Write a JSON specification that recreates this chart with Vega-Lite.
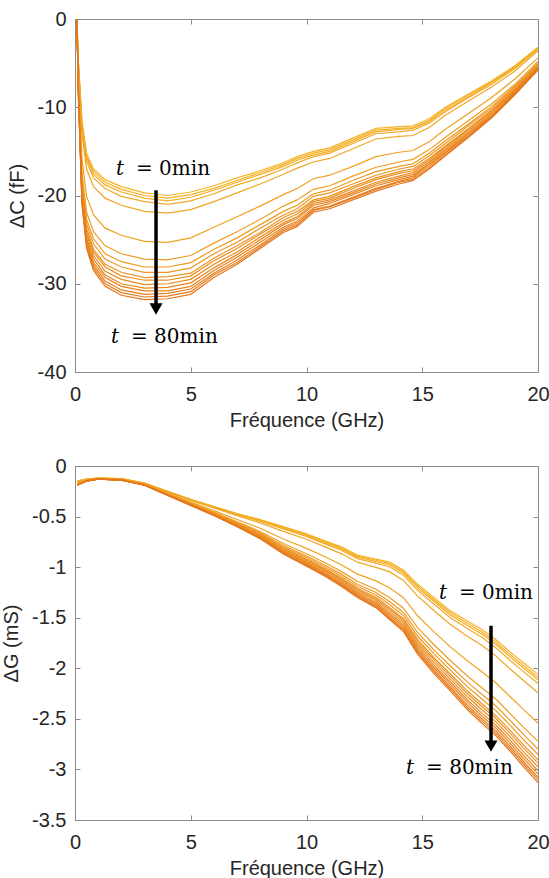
{
"$schema":"https://vega.github.io/schema/vega-lite/v6.json",
"background":"white",
"padding":{"left":1,"top":8,"right":0,"bottom":0},
"spacing":24,
"config":{
 "view":{"stroke":"#8c8c8c","strokeWidth":1},
 "axis":{"labelFont":"Liberation Sans","titleFont":"Liberation Sans","labelFontSize":20,"titleFontSize":20,"titleFontWeight":"normal","labelColor":"#262626","titleColor":"#262626","grid":false,"domainColor":"#8c8c8c","tickColor":"#8c8c8c","tickSize":-5,"labelFlush":false,"labelOverlap":false},
 "axisX":{"labelPadding":17,"titlePadding":6},
 "axisY":{"labelPadding":14,"titlePadding":10}
},
"datasets":{
"dc":[
{"t":0,"f":0.08,"v":0},{"t":0,"f":0.15,"v":-5.0},{"t":0,"f":0.3,"v":-11.5},{"t":0,"f":0.5,"v":-15.2},{"t":0,"f":0.8,"v":-17.0},{"t":0,"f":1.3,"v":-18.2},{"t":0,"f":2,"v":-19.0},{"t":0,"f":3,"v":-19.7},{"t":0,"f":4,"v":-20.0},{"t":0,"f":5,"v":-19.6},{"t":0,"f":6,"v":-18.9},{"t":0,"f":7,"v":-18.0},{"t":0,"f":8,"v":-17.2},{"t":0,"f":9,"v":-16.3},{"t":0,"f":9.6,"v":-15.6},{"t":0,"f":10.3,"v":-15.0},{"t":0,"f":11,"v":-14.6},{"t":0,"f":12,"v":-13.5},{"t":0,"f":13,"v":-12.4},{"t":0,"f":14,"v":-12.2},{"t":0,"f":14.6,"v":-12.1},{"t":0,"f":15.3,"v":-11.3},{"t":0,"f":16,"v":-10.0},{"t":0,"f":17,"v":-8.5},{"t":0,"f":18,"v":-7.0},{"t":0,"f":19,"v":-5.3},{"t":0,"f":20,"v":-3.2},
{"t":5,"f":0.08,"v":0},{"t":5,"f":0.15,"v":-5.1},{"t":5,"f":0.3,"v":-11.8},{"t":5,"f":0.5,"v":-15.5},{"t":5,"f":0.8,"v":-17.3},{"t":5,"f":1.3,"v":-18.5},{"t":5,"f":2,"v":-19.3},{"t":5,"f":3,"v":-20.0},{"t":5,"f":4,"v":-20.3},{"t":5,"f":5,"v":-19.9},{"t":5,"f":6,"v":-19.2},{"t":5,"f":7,"v":-18.3},{"t":5,"f":8,"v":-17.4},{"t":5,"f":9,"v":-16.5},{"t":5,"f":9.6,"v":-15.8},{"t":5,"f":10.3,"v":-15.2},{"t":5,"f":11,"v":-14.8},{"t":5,"f":12,"v":-13.7},{"t":5,"f":13,"v":-12.6},{"t":5,"f":14,"v":-12.4},{"t":5,"f":14.6,"v":-12.3},{"t":5,"f":15.3,"v":-11.5},{"t":5,"f":16,"v":-10.1},{"t":5,"f":17,"v":-8.6},{"t":5,"f":18,"v":-7.1},{"t":5,"f":19,"v":-5.4},{"t":5,"f":20,"v":-3.3},
{"t":10,"f":0.08,"v":0},{"t":10,"f":0.15,"v":-5.2},{"t":10,"f":0.3,"v":-12.0},{"t":10,"f":0.5,"v":-15.7},{"t":10,"f":0.8,"v":-17.6},{"t":10,"f":1.3,"v":-18.8},{"t":10,"f":2,"v":-19.6},{"t":10,"f":3,"v":-20.3},{"t":10,"f":4,"v":-20.6},{"t":10,"f":5,"v":-20.2},{"t":10,"f":6,"v":-19.4},{"t":10,"f":7,"v":-18.5},{"t":10,"f":8,"v":-17.6},{"t":10,"f":9,"v":-16.7},{"t":10,"f":9.6,"v":-16.0},{"t":10,"f":10.3,"v":-15.4},{"t":10,"f":11,"v":-15.0},{"t":10,"f":12,"v":-13.9},{"t":10,"f":13,"v":-12.8},{"t":10,"f":14,"v":-12.5},{"t":10,"f":14.6,"v":-12.4},{"t":10,"f":15.3,"v":-11.6},{"t":10,"f":16,"v":-10.3},{"t":10,"f":17,"v":-8.8},{"t":10,"f":18,"v":-7.2},{"t":10,"f":19,"v":-5.5},{"t":10,"f":20,"v":-3.3},
{"t":15,"f":0.08,"v":0},{"t":15,"f":0.15,"v":-5.3},{"t":15,"f":0.3,"v":-12.3},{"t":15,"f":0.5,"v":-16.1},{"t":15,"f":0.8,"v":-18.0},{"t":15,"f":1.3,"v":-19.2},{"t":15,"f":2,"v":-20.1},{"t":15,"f":3,"v":-20.7},{"t":15,"f":4,"v":-21.0},{"t":15,"f":5,"v":-20.6},{"t":15,"f":6,"v":-19.8},{"t":15,"f":7,"v":-18.8},{"t":15,"f":8,"v":-18.0},{"t":15,"f":9,"v":-17.0},{"t":15,"f":9.6,"v":-16.3},{"t":15,"f":10.3,"v":-15.6},{"t":15,"f":11,"v":-15.2},{"t":15,"f":12,"v":-14.1},{"t":15,"f":13,"v":-13.0},{"t":15,"f":14,"v":-12.8},{"t":15,"f":14.6,"v":-12.6},{"t":15,"f":15.3,"v":-11.8},{"t":15,"f":16,"v":-10.5},{"t":15,"f":17,"v":-8.9},{"t":15,"f":18,"v":-7.4},{"t":15,"f":19,"v":-5.6},{"t":15,"f":20,"v":-3.4},
{"t":20,"f":0.08,"v":0},{"t":20,"f":0.15,"v":-5.7},{"t":20,"f":0.3,"v":-13.1},{"t":20,"f":0.5,"v":-17.0},{"t":20,"f":0.8,"v":-19.0},{"t":20,"f":1.3,"v":-20.3},{"t":20,"f":2,"v":-21.1},{"t":20,"f":3,"v":-21.8},{"t":20,"f":4,"v":-22.0},{"t":20,"f":5,"v":-21.6},{"t":20,"f":6,"v":-20.7},{"t":20,"f":7,"v":-19.7},{"t":20,"f":8,"v":-18.7},{"t":20,"f":9,"v":-17.6},{"t":20,"f":9.6,"v":-16.9},{"t":20,"f":10.3,"v":-16.2},{"t":20,"f":11,"v":-15.8},{"t":20,"f":12,"v":-14.7},{"t":20,"f":13,"v":-13.6},{"t":20,"f":14,"v":-13.3},{"t":20,"f":14.6,"v":-13.2},{"t":20,"f":15.3,"v":-12.3},{"t":20,"f":16,"v":-10.9},{"t":20,"f":17,"v":-9.3},{"t":20,"f":18,"v":-7.7},{"t":20,"f":19,"v":-5.9},{"t":20,"f":20,"v":-3.6},
{"t":25,"f":0.08,"v":0},{"t":25,"f":0.15,"v":-6.8},{"t":25,"f":0.3,"v":-15.8},{"t":25,"f":0.5,"v":-20.1},{"t":25,"f":0.8,"v":-22.2},{"t":25,"f":1.3,"v":-23.7},{"t":25,"f":2,"v":-24.5},{"t":25,"f":3,"v":-25.2},{"t":25,"f":4,"v":-25.3},{"t":25,"f":5,"v":-24.8},{"t":25,"f":6,"v":-23.6},{"t":25,"f":7,"v":-22.4},{"t":25,"f":8,"v":-21.2},{"t":25,"f":9,"v":-19.9},{"t":25,"f":9.6,"v":-19.2},{"t":25,"f":10.3,"v":-18.1},{"t":25,"f":11,"v":-17.7},{"t":25,"f":12,"v":-16.7},{"t":25,"f":13,"v":-15.6},{"t":25,"f":14,"v":-15.1},{"t":25,"f":14.6,"v":-14.9},{"t":25,"f":15.3,"v":-13.9},{"t":25,"f":16,"v":-12.5},{"t":25,"f":17,"v":-10.7},{"t":25,"f":18,"v":-8.9},{"t":25,"f":19,"v":-6.8},{"t":25,"f":20,"v":-4.4},
{"t":30,"f":0.08,"v":0},{"t":30,"f":0.15,"v":-7.5},{"t":30,"f":0.3,"v":-17.4},{"t":30,"f":0.5,"v":-21.9},{"t":30,"f":0.8,"v":-24.1},{"t":30,"f":1.3,"v":-25.7},{"t":30,"f":2,"v":-26.6},{"t":30,"f":3,"v":-27.2},{"t":30,"f":4,"v":-27.3},{"t":30,"f":5,"v":-26.8},{"t":30,"f":6,"v":-25.4},{"t":30,"f":7,"v":-24.1},{"t":30,"f":8,"v":-22.7},{"t":30,"f":9,"v":-21.2},{"t":30,"f":9.6,"v":-20.5},{"t":30,"f":10.3,"v":-19.3},{"t":30,"f":11,"v":-18.9},{"t":30,"f":12,"v":-17.8},{"t":30,"f":13,"v":-16.8},{"t":30,"f":14,"v":-16.2},{"t":30,"f":14.6,"v":-15.9},{"t":30,"f":15.3,"v":-14.8},{"t":30,"f":16,"v":-13.4},{"t":30,"f":17,"v":-11.5},{"t":30,"f":18,"v":-9.6},{"t":30,"f":19,"v":-7.4},{"t":30,"f":20,"v":-4.8},
{"t":35,"f":0.08,"v":0},{"t":35,"f":0.15,"v":-7.8},{"t":35,"f":0.3,"v":-18.1},{"t":35,"f":0.5,"v":-22.7},{"t":35,"f":0.8,"v":-24.9},{"t":35,"f":1.3,"v":-26.6},{"t":35,"f":2,"v":-27.5},{"t":35,"f":3,"v":-28.1},{"t":35,"f":4,"v":-28.1},{"t":35,"f":5,"v":-27.6},{"t":35,"f":6,"v":-26.1},{"t":35,"f":7,"v":-24.8},{"t":35,"f":8,"v":-23.3},{"t":35,"f":9,"v":-21.8},{"t":35,"f":9.6,"v":-21.1},{"t":35,"f":10.3,"v":-19.8},{"t":35,"f":11,"v":-19.4},{"t":35,"f":12,"v":-18.3},{"t":35,"f":13,"v":-17.3},{"t":35,"f":14,"v":-16.7},{"t":35,"f":14.6,"v":-16.4},{"t":35,"f":15.3,"v":-15.2},{"t":35,"f":16,"v":-13.8},{"t":35,"f":17,"v":-11.9},{"t":35,"f":18,"v":-9.9},{"t":35,"f":19,"v":-7.6},{"t":35,"f":20,"v":-5.0},
{"t":40,"f":0.08,"v":0},{"t":40,"f":0.15,"v":-8.0},{"t":40,"f":0.3,"v":-18.5},{"t":40,"f":0.5,"v":-23.2},{"t":40,"f":0.8,"v":-25.5},{"t":40,"f":1.3,"v":-27.2},{"t":40,"f":2,"v":-28.1},{"t":40,"f":3,"v":-28.7},{"t":40,"f":4,"v":-28.7},{"t":40,"f":5,"v":-28.2},{"t":40,"f":6,"v":-26.6},{"t":40,"f":7,"v":-25.3},{"t":40,"f":8,"v":-23.7},{"t":40,"f":9,"v":-22.2},{"t":40,"f":9.6,"v":-21.5},{"t":40,"f":10.3,"v":-20.1},{"t":40,"f":11,"v":-19.7},{"t":40,"f":12,"v":-18.7},{"t":40,"f":13,"v":-17.7},{"t":40,"f":14,"v":-17.0},{"t":40,"f":14.6,"v":-16.7},{"t":40,"f":15.3,"v":-15.5},{"t":40,"f":16,"v":-14.1},{"t":40,"f":17,"v":-12.1},{"t":40,"f":18,"v":-10.1},{"t":40,"f":19,"v":-7.7},{"t":40,"f":20,"v":-5.1},
{"t":45,"f":0.08,"v":0},{"t":45,"f":0.15,"v":-8.2},{"t":45,"f":0.3,"v":-19.0},{"t":45,"f":0.5,"v":-23.7},{"t":45,"f":0.8,"v":-26.1},{"t":45,"f":1.3,"v":-27.8},{"t":45,"f":2,"v":-28.7},{"t":45,"f":3,"v":-29.3},{"t":45,"f":4,"v":-29.2},{"t":45,"f":5,"v":-28.8},{"t":45,"f":6,"v":-27.1},{"t":45,"f":7,"v":-25.7},{"t":45,"f":8,"v":-24.2},{"t":45,"f":9,"v":-22.5},{"t":45,"f":9.6,"v":-21.8},{"t":45,"f":10.3,"v":-20.5},{"t":45,"f":11,"v":-20.1},{"t":45,"f":12,"v":-19.0},{"t":45,"f":13,"v":-18.0},{"t":45,"f":14,"v":-17.3},{"t":45,"f":14.6,"v":-17.0},{"t":45,"f":15.3,"v":-15.8},{"t":45,"f":16,"v":-14.4},{"t":45,"f":17,"v":-12.4},{"t":45,"f":18,"v":-10.3},{"t":45,"f":19,"v":-7.9},{"t":45,"f":20,"v":-5.3},
{"t":50,"f":0.08,"v":0},{"t":50,"f":0.15,"v":-8.3},{"t":50,"f":0.3,"v":-19.3},{"t":50,"f":0.5,"v":-24.1},{"t":50,"f":0.8,"v":-26.4},{"t":50,"f":1.3,"v":-28.1},{"t":50,"f":2,"v":-29.1},{"t":50,"f":3,"v":-29.6},{"t":50,"f":4,"v":-29.6},{"t":50,"f":5,"v":-29.1},{"t":50,"f":6,"v":-27.4},{"t":50,"f":7,"v":-26.0},{"t":50,"f":8,"v":-24.4},{"t":50,"f":9,"v":-22.8},{"t":50,"f":9.6,"v":-22.1},{"t":50,"f":10.3,"v":-20.7},{"t":50,"f":11,"v":-20.3},{"t":50,"f":12,"v":-19.2},{"t":50,"f":13,"v":-18.2},{"t":50,"f":14,"v":-17.5},{"t":50,"f":14.6,"v":-17.2},{"t":50,"f":15.3,"v":-16.0},{"t":50,"f":16,"v":-14.5},{"t":50,"f":17,"v":-12.5},{"t":50,"f":18,"v":-10.4},{"t":50,"f":19,"v":-8.0},{"t":50,"f":20,"v":-5.3},
{"t":55,"f":0.08,"v":0},{"t":55,"f":0.15,"v":-8.4},{"t":55,"f":0.3,"v":-19.6},{"t":55,"f":0.5,"v":-24.4},{"t":55,"f":0.8,"v":-26.8},{"t":55,"f":1.3,"v":-28.6},{"t":55,"f":2,"v":-29.5},{"t":55,"f":3,"v":-30.1},{"t":55,"f":4,"v":-30.0},{"t":55,"f":5,"v":-29.5},{"t":55,"f":6,"v":-27.8},{"t":55,"f":7,"v":-26.4},{"t":55,"f":8,"v":-24.7},{"t":55,"f":9,"v":-23.1},{"t":55,"f":9.6,"v":-22.4},{"t":55,"f":10.3,"v":-20.9},{"t":55,"f":11,"v":-20.5},{"t":55,"f":12,"v":-19.5},{"t":55,"f":13,"v":-18.5},{"t":55,"f":14,"v":-17.8},{"t":55,"f":14.6,"v":-17.4},{"t":55,"f":15.3,"v":-16.2},{"t":55,"f":16,"v":-14.7},{"t":55,"f":17,"v":-12.7},{"t":55,"f":18,"v":-10.6},{"t":55,"f":19,"v":-8.1},{"t":55,"f":20,"v":-5.4},
{"t":60,"f":0.08,"v":0},{"t":60,"f":0.15,"v":-8.6},{"t":60,"f":0.3,"v":-20.0},{"t":60,"f":0.5,"v":-24.8},{"t":60,"f":0.8,"v":-27.2},{"t":60,"f":1.3,"v":-29.0},{"t":60,"f":2,"v":-30.0},{"t":60,"f":3,"v":-30.5},{"t":60,"f":4,"v":-30.4},{"t":60,"f":5,"v":-29.9},{"t":60,"f":6,"v":-28.2},{"t":60,"f":7,"v":-26.7},{"t":60,"f":8,"v":-25.0},{"t":60,"f":9,"v":-23.3},{"t":60,"f":9.6,"v":-22.6},{"t":60,"f":10.3,"v":-21.1},{"t":60,"f":11,"v":-20.7},{"t":60,"f":12,"v":-19.7},{"t":60,"f":13,"v":-18.7},{"t":60,"f":14,"v":-18.0},{"t":60,"f":14.6,"v":-17.6},{"t":60,"f":15.3,"v":-16.4},{"t":60,"f":16,"v":-14.9},{"t":60,"f":17,"v":-12.9},{"t":60,"f":18,"v":-10.7},{"t":60,"f":19,"v":-8.2},{"t":60,"f":20,"v":-5.5},
{"t":65,"f":0.08,"v":0},{"t":65,"f":0.15,"v":-8.7},{"t":65,"f":0.3,"v":-20.2},{"t":65,"f":0.5,"v":-25.1},{"t":65,"f":0.8,"v":-27.6},{"t":65,"f":1.3,"v":-29.3},{"t":65,"f":2,"v":-30.3},{"t":65,"f":3,"v":-30.8},{"t":65,"f":4,"v":-30.8},{"t":65,"f":5,"v":-30.3},{"t":65,"f":6,"v":-28.5},{"t":65,"f":7,"v":-27.0},{"t":65,"f":8,"v":-25.3},{"t":65,"f":9,"v":-23.6},{"t":65,"f":9.6,"v":-22.9},{"t":65,"f":10.3,"v":-21.4},{"t":65,"f":11,"v":-20.9},{"t":65,"f":12,"v":-19.9},{"t":65,"f":13,"v":-18.9},{"t":65,"f":14,"v":-18.2},{"t":65,"f":14.6,"v":-17.8},{"t":65,"f":15.3,"v":-16.5},{"t":65,"f":16,"v":-15.1},{"t":65,"f":17,"v":-13.0},{"t":65,"f":18,"v":-10.9},{"t":65,"f":19,"v":-8.3},{"t":65,"f":20,"v":-5.6},
{"t":70,"f":0.08,"v":0},{"t":70,"f":0.15,"v":-8.8},{"t":70,"f":0.3,"v":-20.5},{"t":70,"f":0.5,"v":-25.5},{"t":70,"f":0.8,"v":-27.9},{"t":70,"f":1.3,"v":-29.7},{"t":70,"f":2,"v":-30.7},{"t":70,"f":3,"v":-31.2},{"t":70,"f":4,"v":-31.1},{"t":70,"f":5,"v":-30.6},{"t":70,"f":6,"v":-28.8},{"t":70,"f":7,"v":-27.3},{"t":70,"f":8,"v":-25.6},{"t":70,"f":9,"v":-23.8},{"t":70,"f":9.6,"v":-23.1},{"t":70,"f":10.3,"v":-21.6},{"t":70,"f":11,"v":-21.2},{"t":70,"f":12,"v":-20.2},{"t":70,"f":13,"v":-19.2},{"t":70,"f":14,"v":-18.4},{"t":70,"f":14.6,"v":-18.0},{"t":70,"f":15.3,"v":-16.7},{"t":70,"f":16,"v":-15.2},{"t":70,"f":17,"v":-13.2},{"t":70,"f":18,"v":-11.0},{"t":70,"f":19,"v":-8.4},{"t":70,"f":20,"v":-5.7},
{"t":75,"f":0.08,"v":0},{"t":75,"f":0.15,"v":-8.9},{"t":75,"f":0.3,"v":-20.8},{"t":75,"f":0.5,"v":-25.7},{"t":75,"f":0.8,"v":-28.2},{"t":75,"f":1.3,"v":-30.0},{"t":75,"f":2,"v":-31.0},{"t":75,"f":3,"v":-31.5},{"t":75,"f":4,"v":-31.4},{"t":75,"f":5,"v":-30.9},{"t":75,"f":6,"v":-29.0},{"t":75,"f":7,"v":-27.6},{"t":75,"f":8,"v":-25.8},{"t":75,"f":9,"v":-24.0},{"t":75,"f":9.6,"v":-23.3},{"t":75,"f":10.3,"v":-21.7},{"t":75,"f":11,"v":-21.3},{"t":75,"f":12,"v":-20.3},{"t":75,"f":13,"v":-19.3},{"t":75,"f":14,"v":-18.5},{"t":75,"f":14.6,"v":-18.2},{"t":75,"f":15.3,"v":-16.9},{"t":75,"f":16,"v":-15.4},{"t":75,"f":17,"v":-13.3},{"t":75,"f":18,"v":-11.1},{"t":75,"f":19,"v":-8.5},{"t":75,"f":20,"v":-5.7},
{"t":80,"f":0.08,"v":0},{"t":80,"f":0.15,"v":-9.0},{"t":80,"f":0.3,"v":-21.0},{"t":80,"f":0.5,"v":-26.0},{"t":80,"f":0.8,"v":-28.5},{"t":80,"f":1.3,"v":-30.3},{"t":80,"f":2,"v":-31.3},{"t":80,"f":3,"v":-31.8},{"t":80,"f":4,"v":-31.7},{"t":80,"f":5,"v":-31.2},{"t":80,"f":6,"v":-29.3},{"t":80,"f":7,"v":-27.8},{"t":80,"f":8,"v":-26.0},{"t":80,"f":9,"v":-24.2},{"t":80,"f":9.6,"v":-23.5},{"t":80,"f":10.3,"v":-21.9},{"t":80,"f":11,"v":-21.5},{"t":80,"f":12,"v":-20.5},{"t":80,"f":13,"v":-19.5},{"t":80,"f":14,"v":-18.7},{"t":80,"f":14.6,"v":-18.3},{"t":80,"f":15.3,"v":-17.0},{"t":80,"f":16,"v":-15.5},{"t":80,"f":17,"v":-13.4},{"t":80,"f":18,"v":-11.2},{"t":80,"f":19,"v":-8.6},{"t":80,"f":20,"v":-5.8}
],
"dg":[
{"t":0,"f":0.1,"v":-0.15},{"t":5,"f":0.1,"v":-0.15},{"t":10,"f":0.1,"v":-0.15},{"t":15,"f":0.1,"v":-0.153},{"t":20,"f":0.1,"v":-0.157},{"t":25,"f":0.1,"v":-0.168},{"t":30,"f":0.1,"v":-0.175},{"t":35,"f":0.1,"v":-0.178},{"t":40,"f":0.1,"v":-0.18},{"t":45,"f":0.1,"v":-0.182},{"t":50,"f":0.1,"v":-0.183},{"t":55,"f":0.1,"v":-0.184},{"t":60,"f":0.1,"v":-0.186},{"t":65,"f":0.1,"v":-0.187},{"t":70,"f":0.1,"v":-0.188},{"t":75,"f":0.1,"v":-0.189},{"t":80,"f":0.1,"v":-0.19},
{"t":0,"f":0.5,"v":-0.13},{"t":5,"f":0.5,"v":-0.13},{"t":10,"f":0.5,"v":-0.131},{"t":15,"f":0.5,"v":-0.132},{"t":20,"f":0.5,"v":-0.133},{"t":25,"f":0.5,"v":-0.139},{"t":30,"f":0.5,"v":-0.142},{"t":35,"f":0.5,"v":-0.144},{"t":40,"f":0.5,"v":-0.145},{"t":45,"f":0.5,"v":-0.146},{"t":50,"f":0.5,"v":-0.146},{"t":55,"f":0.5,"v":-0.147},{"t":60,"f":0.5,"v":-0.148},{"t":65,"f":0.5,"v":-0.148},{"t":70,"f":0.5,"v":-0.149},{"t":75,"f":0.5,"v":-0.15},{"t":80,"f":0.5,"v":-0.15},
{"t":0,"f":1,"v":-0.12},{"t":5,"f":1,"v":-0.12},{"t":10,"f":1,"v":-0.12},{"t":15,"f":1,"v":-0.121},{"t":20,"f":1,"v":-0.122},{"t":25,"f":1,"v":-0.125},{"t":30,"f":1,"v":-0.126},{"t":35,"f":1,"v":-0.127},{"t":40,"f":1,"v":-0.127},{"t":45,"f":1,"v":-0.128},{"t":50,"f":1,"v":-0.128},{"t":55,"f":1,"v":-0.129},{"t":60,"f":1,"v":-0.129},{"t":65,"f":1,"v":-0.129},{"t":70,"f":1,"v":-0.13},{"t":75,"f":1,"v":-0.13},{"t":80,"f":1,"v":-0.13},
{"t":0,"f":2,"v":-0.125},{"t":5,"f":2,"v":-0.125},{"t":10,"f":2,"v":-0.126},{"t":15,"f":2,"v":-0.126},{"t":20,"f":2,"v":-0.128},{"t":25,"f":2,"v":-0.132},{"t":30,"f":2,"v":-0.134},{"t":35,"f":2,"v":-0.135},{"t":40,"f":2,"v":-0.136},{"t":45,"f":2,"v":-0.137},{"t":50,"f":2,"v":-0.137},{"t":55,"f":2,"v":-0.138},{"t":60,"f":2,"v":-0.138},{"t":65,"f":2,"v":-0.139},{"t":70,"f":2,"v":-0.139},{"t":75,"f":2,"v":-0.14},{"t":80,"f":2,"v":-0.14},
{"t":0,"f":3,"v":-0.17},{"t":5,"f":3,"v":-0.17},{"t":10,"f":3,"v":-0.171},{"t":15,"f":3,"v":-0.172},{"t":20,"f":3,"v":-0.173},{"t":25,"f":3,"v":-0.179},{"t":30,"f":3,"v":-0.182},{"t":35,"f":3,"v":-0.184},{"t":40,"f":3,"v":-0.185},{"t":45,"f":3,"v":-0.186},{"t":50,"f":3,"v":-0.186},{"t":55,"f":3,"v":-0.187},{"t":60,"f":3,"v":-0.188},{"t":65,"f":3,"v":-0.188},{"t":70,"f":3,"v":-0.189},{"t":75,"f":3,"v":-0.19},{"t":80,"f":3,"v":-0.19},
{"t":0,"f":4,"v":-0.25},{"t":5,"f":4,"v":-0.251},{"t":10,"f":4,"v":-0.252},{"t":15,"f":4,"v":-0.253},{"t":20,"f":4,"v":-0.257},{"t":25,"f":4,"v":-0.268},{"t":30,"f":4,"v":-0.275},{"t":35,"f":4,"v":-0.278},{"t":40,"f":4,"v":-0.28},{"t":45,"f":4,"v":-0.282},{"t":50,"f":4,"v":-0.283},{"t":55,"f":4,"v":-0.284},{"t":60,"f":4,"v":-0.286},{"t":65,"f":4,"v":-0.287},{"t":70,"f":4,"v":-0.288},{"t":75,"f":4,"v":-0.289},{"t":80,"f":4,"v":-0.29},
{"t":0,"f":5,"v":-0.33},{"t":5,"f":5,"v":-0.332},{"t":10,"f":5,"v":-0.333},{"t":15,"f":5,"v":-0.335},{"t":20,"f":5,"v":-0.34},{"t":25,"f":5,"v":-0.357},{"t":30,"f":5,"v":-0.367},{"t":35,"f":5,"v":-0.371},{"t":40,"f":5,"v":-0.374},{"t":45,"f":5,"v":-0.377},{"t":50,"f":5,"v":-0.379},{"t":55,"f":5,"v":-0.381},{"t":60,"f":5,"v":-0.383},{"t":65,"f":5,"v":-0.385},{"t":70,"f":5,"v":-0.387},{"t":75,"f":5,"v":-0.389},{"t":80,"f":5,"v":-0.39},
{"t":0,"f":6,"v":-0.40},{"t":5,"f":6,"v":-0.402},{"t":10,"f":6,"v":-0.405},{"t":15,"f":6,"v":-0.408},{"t":20,"f":6,"v":-0.415},{"t":25,"f":6,"v":-0.441},{"t":30,"f":6,"v":-0.456},{"t":35,"f":6,"v":-0.462},{"t":40,"f":6,"v":-0.467},{"t":45,"f":6,"v":-0.471},{"t":50,"f":6,"v":-0.474},{"t":55,"f":6,"v":-0.477},{"t":60,"f":6,"v":-0.48},{"t":65,"f":6,"v":-0.483},{"t":70,"f":6,"v":-0.486},{"t":75,"f":6,"v":-0.488},{"t":80,"f":6,"v":-0.49},
{"t":0,"f":7,"v":-0.47},{"t":5,"f":7,"v":-0.473},{"t":10,"f":7,"v":-0.477},{"t":15,"f":7,"v":-0.481},{"t":20,"f":7,"v":-0.492},{"t":25,"f":7,"v":-0.529},{"t":30,"f":7,"v":-0.551},{"t":35,"f":7,"v":-0.56},{"t":40,"f":7,"v":-0.566},{"t":45,"f":7,"v":-0.573},{"t":50,"f":7,"v":-0.577},{"t":55,"f":7,"v":-0.581},{"t":60,"f":7,"v":-0.586},{"t":65,"f":7,"v":-0.59},{"t":70,"f":7,"v":-0.594},{"t":75,"f":7,"v":-0.597},{"t":80,"f":7,"v":-0.60},
{"t":0,"f":8,"v":-0.53},{"t":5,"f":8,"v":-0.535},{"t":10,"f":8,"v":-0.54},{"t":15,"f":8,"v":-0.546},{"t":20,"f":8,"v":-0.562},{"t":25,"f":8,"v":-0.616},{"t":30,"f":8,"v":-0.648},{"t":35,"f":8,"v":-0.661},{"t":40,"f":8,"v":-0.671},{"t":45,"f":8,"v":-0.68},{"t":50,"f":8,"v":-0.686},{"t":55,"f":8,"v":-0.692},{"t":60,"f":8,"v":-0.699},{"t":65,"f":8,"v":-0.705},{"t":70,"f":8,"v":-0.711},{"t":75,"f":8,"v":-0.715},{"t":80,"f":8,"v":-0.72},
{"t":0,"f":9,"v":-0.60},{"t":5,"f":9,"v":-0.607},{"t":10,"f":9,"v":-0.614},{"t":15,"f":9,"v":-0.623},{"t":20,"f":9,"v":-0.646},{"t":25,"f":9,"v":-0.722},{"t":30,"f":9,"v":-0.767},{"t":35,"f":9,"v":-0.786},{"t":40,"f":9,"v":-0.80},{"t":45,"f":9,"v":-0.813},{"t":50,"f":9,"v":-0.821},{"t":55,"f":9,"v":-0.831},{"t":60,"f":9,"v":-0.84},{"t":65,"f":9,"v":-0.848},{"t":70,"f":9,"v":-0.857},{"t":75,"f":9,"v":-0.863},{"t":80,"f":9,"v":-0.87},
{"t":0,"f":10,"v":-0.67},{"t":5,"f":10,"v":-0.678},{"t":10,"f":10,"v":-0.686},{"t":15,"f":10,"v":-0.697},{"t":20,"f":10,"v":-0.724},{"t":25,"f":10,"v":-0.814},{"t":30,"f":10,"v":-0.868},{"t":35,"f":10,"v":-0.891},{"t":40,"f":10,"v":-0.907},{"t":45,"f":10,"v":-0.923},{"t":50,"f":10,"v":-0.932},{"t":55,"f":10,"v":-0.944},{"t":60,"f":10,"v":-0.955},{"t":65,"f":10,"v":-0.964},{"t":70,"f":10,"v":-0.974},{"t":75,"f":10,"v":-0.982},{"t":80,"f":10,"v":-0.99},
{"t":0,"f":10.8,"v":-0.74},{"t":5,"f":10.8,"v":-0.749},{"t":10,"f":10.8,"v":-0.758},{"t":15,"f":10.8,"v":-0.77},{"t":20,"f":10.8,"v":-0.80},{"t":25,"f":10.8,"v":-0.898},{"t":30,"f":10.8,"v":-0.957},{"t":35,"f":10.8,"v":-0.982},{"t":40,"f":10.8,"v":-0.999},{"t":45,"f":10.8,"v":-1.017},{"t":50,"f":10.8,"v":-1.027},{"t":55,"f":10.8,"v":-1.039},{"t":60,"f":10.8,"v":-1.052},{"t":65,"f":10.8,"v":-1.062},{"t":70,"f":10.8,"v":-1.073},{"t":75,"f":10.8,"v":-1.081},{"t":80,"f":10.8,"v":-1.09},
{"t":0,"f":11.5,"v":-0.80},{"t":5,"f":11.5,"v":-0.81},{"t":10,"f":11.5,"v":-0.82},{"t":15,"f":11.5,"v":-0.833},{"t":20,"f":11.5,"v":-0.866},{"t":25,"f":11.5,"v":-0.976},{"t":30,"f":11.5,"v":-1.042},{"t":35,"f":11.5,"v":-1.069},{"t":40,"f":11.5,"v":-1.089},{"t":45,"f":11.5,"v":-1.108},{"t":50,"f":11.5,"v":-1.12},{"t":55,"f":11.5,"v":-1.133},{"t":60,"f":11.5,"v":-1.147},{"t":65,"f":11.5,"v":-1.159},{"t":70,"f":11.5,"v":-1.171},{"t":75,"f":11.5,"v":-1.18},{"t":80,"f":11.5,"v":-1.19},
{"t":0,"f":12.2,"v":-0.88},{"t":5,"f":12.2,"v":-0.891},{"t":10,"f":12.2,"v":-0.901},{"t":15,"f":12.2,"v":-0.916},{"t":20,"f":12.2,"v":-0.951},{"t":25,"f":12.2,"v":-1.069},{"t":30,"f":12.2,"v":-1.14},{"t":35,"f":12.2,"v":-1.17},{"t":40,"f":12.2,"v":-1.191},{"t":45,"f":12.2,"v":-1.212},{"t":50,"f":12.2,"v":-1.224},{"t":55,"f":12.2,"v":-1.239},{"t":60,"f":12.2,"v":-1.254},{"t":65,"f":12.2,"v":-1.266},{"t":70,"f":12.2,"v":-1.279},{"t":75,"f":12.2,"v":-1.29},{"t":80,"f":12.2,"v":-1.30},
{"t":0,"f":13,"v":-0.92},{"t":5,"f":13,"v":-0.932},{"t":10,"f":13,"v":-0.944},{"t":15,"f":13,"v":-0.961},{"t":20,"f":13,"v":-1.002},{"t":25,"f":13,"v":-1.136},{"t":30,"f":13,"v":-1.218},{"t":35,"f":13,"v":-1.251},{"t":40,"f":13,"v":-1.275},{"t":45,"f":13,"v":-1.299},{"t":50,"f":13,"v":-1.314},{"t":55,"f":13,"v":-1.33},{"t":60,"f":13,"v":-1.347},{"t":65,"f":13,"v":-1.362},{"t":70,"f":13,"v":-1.376},{"t":75,"f":13,"v":-1.388},{"t":80,"f":13,"v":-1.40},
{"t":0,"f":13.6,"v":-0.95},{"t":5,"f":13.6,"v":-0.965},{"t":10,"f":13.6,"v":-0.979},{"t":15,"f":13.6,"v":-0.998},{"t":20,"f":13.6,"v":-1.047},{"t":25,"f":13.6,"v":-1.207},{"t":30,"f":13.6,"v":-1.303},{"t":35,"f":13.6,"v":-1.343},{"t":40,"f":13.6,"v":-1.372},{"t":45,"f":13.6,"v":-1.40},{"t":50,"f":13.6,"v":-1.417},{"t":55,"f":13.6,"v":-1.437},{"t":60,"f":13.6,"v":-1.457},{"t":65,"f":13.6,"v":-1.474},{"t":70,"f":13.6,"v":-1.492},{"t":75,"f":13.6,"v":-1.506},{"t":80,"f":13.6,"v":-1.52},
{"t":0,"f":14.2,"v":-1.03},{"t":5,"f":14.2,"v":-1.046},{"t":10,"f":14.2,"v":-1.061},{"t":15,"f":14.2,"v":-1.082},{"t":20,"f":14.2,"v":-1.134},{"t":25,"f":14.2,"v":-1.305},{"t":30,"f":14.2,"v":-1.408},{"t":35,"f":14.2,"v":-1.451},{"t":40,"f":14.2,"v":-1.481},{"t":45,"f":14.2,"v":-1.512},{"t":50,"f":14.2,"v":-1.53},{"t":55,"f":14.2,"v":-1.552},{"t":60,"f":14.2,"v":-1.573},{"t":65,"f":14.2,"v":-1.591},{"t":70,"f":14.2,"v":-1.61},{"t":75,"f":14.2,"v":-1.625},{"t":80,"f":14.2,"v":-1.64},
{"t":0,"f":14.8,"v":-1.17},{"t":5,"f":14.8,"v":-1.188},{"t":10,"f":14.8,"v":-1.205},{"t":15,"f":14.8,"v":-1.229},{"t":20,"f":14.8,"v":-1.287},{"t":25,"f":14.8,"v":-1.481},{"t":30,"f":14.8,"v":-1.598},{"t":35,"f":14.8,"v":-1.646},{"t":40,"f":14.8,"v":-1.681},{"t":45,"f":14.8,"v":-1.715},{"t":50,"f":14.8,"v":-1.736},{"t":55,"f":14.8,"v":-1.76},{"t":60,"f":14.8,"v":-1.784},{"t":65,"f":14.8,"v":-1.805},{"t":70,"f":14.8,"v":-1.826},{"t":75,"f":14.8,"v":-1.843},{"t":80,"f":14.8,"v":-1.86},
{"t":0,"f":15.5,"v":-1.30},{"t":5,"f":15.5,"v":-1.32},{"t":10,"f":15.5,"v":-1.338},{"t":15,"f":15.5,"v":-1.364},{"t":20,"f":15.5,"v":-1.428},{"t":25,"f":15.5,"v":-1.638},{"t":30,"f":15.5,"v":-1.765},{"t":35,"f":15.5,"v":-1.818},{"t":40,"f":15.5,"v":-1.855},{"t":45,"f":15.5,"v":-1.893},{"t":50,"f":15.5,"v":-1.915},{"t":55,"f":15.5,"v":-1.941},{"t":60,"f":15.5,"v":-1.968},{"t":65,"f":15.5,"v":-1.99},{"t":70,"f":15.5,"v":-2.013},{"t":75,"f":15.5,"v":-2.031},{"t":80,"f":15.5,"v":-2.05},
{"t":0,"f":16.2,"v":-1.43},{"t":5,"f":16.2,"v":-1.451},{"t":10,"f":16.2,"v":-1.47},{"t":15,"f":16.2,"v":-1.497},{"t":20,"f":16.2,"v":-1.564},{"t":25,"f":16.2,"v":-1.786},{"t":30,"f":16.2,"v":-1.92},{"t":35,"f":16.2,"v":-1.975},{"t":40,"f":16.2,"v":-2.015},{"t":45,"f":16.2,"v":-2.054},{"t":50,"f":16.2,"v":-2.078},{"t":55,"f":16.2,"v":-2.105},{"t":60,"f":16.2,"v":-2.133},{"t":65,"f":16.2,"v":-2.157},{"t":70,"f":16.2,"v":-2.181},{"t":75,"f":16.2,"v":-2.20},{"t":80,"f":16.2,"v":-2.22},
{"t":0,"f":17,"v":-1.54},{"t":5,"f":17,"v":-1.563},{"t":10,"f":17,"v":-1.584},{"t":15,"f":17,"v":-1.615},{"t":20,"f":17,"v":-1.69},{"t":25,"f":17,"v":-1.936},{"t":30,"f":17,"v":-2.086},{"t":35,"f":17,"v":-2.147},{"t":40,"f":17,"v":-2.191},{"t":45,"f":17,"v":-2.235},{"t":50,"f":17,"v":-2.262},{"t":55,"f":17,"v":-2.292},{"t":60,"f":17,"v":-2.323},{"t":65,"f":17,"v":-2.35},{"t":70,"f":17,"v":-2.376},{"t":75,"f":17,"v":-2.398},{"t":80,"f":17,"v":-2.42},
{"t":0,"f":17.6,"v":-1.62},{"t":5,"f":17.6,"v":-1.644},{"t":10,"f":17.6,"v":-1.667},{"t":15,"f":17.6,"v":-1.699},{"t":20,"f":17.6,"v":-1.778},{"t":25,"f":17.6,"v":-2.039},{"t":30,"f":17.6,"v":-2.197},{"t":35,"f":17.6,"v":-2.262},{"t":40,"f":17.6,"v":-2.308},{"t":45,"f":17.6,"v":-2.355},{"t":50,"f":17.6,"v":-2.383},{"t":55,"f":17.6,"v":-2.415},{"t":60,"f":17.6,"v":-2.448},{"t":65,"f":17.6,"v":-2.476},{"t":70,"f":17.6,"v":-2.504},{"t":75,"f":17.6,"v":-2.527},{"t":80,"f":17.6,"v":-2.55},
{"t":0,"f":18.2,"v":-1.72},{"t":5,"f":18.2,"v":-1.745},{"t":10,"f":18.2,"v":-1.768},{"t":15,"f":18.2,"v":-1.801},{"t":20,"f":18.2,"v":-1.882},{"t":25,"f":18.2,"v":-2.148},{"t":30,"f":18.2,"v":-2.309},{"t":35,"f":18.2,"v":-2.376},{"t":40,"f":18.2,"v":-2.423},{"t":45,"f":18.2,"v":-2.471},{"t":50,"f":18.2,"v":-2.499},{"t":55,"f":18.2,"v":-2.532},{"t":60,"f":18.2,"v":-2.566},{"t":65,"f":18.2,"v":-2.594},{"t":70,"f":18.2,"v":-2.623},{"t":75,"f":18.2,"v":-2.646},{"t":80,"f":18.2,"v":-2.67},
{"t":0,"f":18.8,"v":-1.84},{"t":5,"f":18.8,"v":-1.865},{"t":10,"f":18.8,"v":-1.889},{"t":15,"f":18.8,"v":-1.923},{"t":20,"f":18.8,"v":-2.007},{"t":25,"f":18.8,"v":-2.281},{"t":30,"f":18.8,"v":-2.448},{"t":35,"f":18.8,"v":-2.516},{"t":40,"f":18.8,"v":-2.565},{"t":45,"f":18.8,"v":-2.614},{"t":50,"f":18.8,"v":-2.644},{"t":55,"f":18.8,"v":-2.678},{"t":60,"f":18.8,"v":-2.712},{"t":65,"f":18.8,"v":-2.742},{"t":70,"f":18.8,"v":-2.771},{"t":75,"f":18.8,"v":-2.796},{"t":80,"f":18.8,"v":-2.82},
{"t":0,"f":19.4,"v":-1.95},{"t":5,"f":19.4,"v":-1.977},{"t":10,"f":19.4,"v":-2.002},{"t":15,"f":19.4,"v":-2.038},{"t":20,"f":19.4,"v":-2.125},{"t":25,"f":19.4,"v":-2.414},{"t":30,"f":19.4,"v":-2.589},{"t":35,"f":19.4,"v":-2.661},{"t":40,"f":19.4,"v":-2.712},{"t":45,"f":19.4,"v":-2.764},{"t":50,"f":19.4,"v":-2.795},{"t":55,"f":19.4,"v":-2.831},{"t":60,"f":19.4,"v":-2.867},{"t":65,"f":19.4,"v":-2.898},{"t":70,"f":19.4,"v":-2.929},{"t":75,"f":19.4,"v":-2.954},{"t":80,"f":19.4,"v":-2.98},
{"t":0,"f":20,"v":-2.06},{"t":5,"f":20,"v":-2.088},{"t":10,"f":20,"v":-2.114},{"t":15,"f":20,"v":-2.151},{"t":20,"f":20,"v":-2.242},{"t":25,"f":20,"v":-2.542},{"t":30,"f":20,"v":-2.723},{"t":35,"f":20,"v":-2.798},{"t":40,"f":20,"v":-2.852},{"t":45,"f":20,"v":-2.905},{"t":50,"f":20,"v":-2.937},{"t":55,"f":20,"v":-2.975},{"t":60,"f":20,"v":-3.012},{"t":65,"f":20,"v":-3.044},{"t":70,"f":20,"v":-3.077},{"t":75,"f":20,"v":-3.103},{"t":80,"f":20,"v":-3.13}
],
"ann":[
{"p":"C","f":1.77,"v":-17.68,"a":"t","b":"= 0min"},
{"p":"C","f":1.555,"v":-36.68,"a":"t","b":"= 80min"},
{"p":"G","f":15.72,"v":-1.316,"a":"t","b":"= 0min"},
{"p":"G","f":14.3,"v":-3.046,"a":"t","b":"= 80min"}
],
"arr":[
{"p":"C","f":3.5,"v1":-19.41,"v2":-32.5,"vh":-32.86},
{"p":"G","f":17.97,"v1":-1.58,"v2":-2.74,"vh":-2.77}
]
},
"vconcat":[
{
"width":463,"height":353,
"layer":[
{"data":{"name":"dc"},"mark":{"type":"line","strokeWidth":1.2},
 "encoding":{
  "x":{"field":"f","type":"quantitative","scale":{"domain":[0,20],"nice":false},"axis":{"title":"Fréquence (GHz)","values":[0,5,10,15,20]}},
  "y":{"field":"v","type":"quantitative","scale":{"domain":[-40,0],"nice":false},"axis":{"title":"ΔC (fF)","values":[-40,-30,-20,-10,0],"labelExpr":"replace(format(datum.value,'~g'),'\u2212','-')"}},
  "color":{"field":"t","type":"quantitative","scale":{"domain":[0,80],"range":["#F5B526","#E5761B"],"interpolate":"rgb"},"legend":null},
  "detail":{"field":"t","type":"nominal"}
 }},
{"data":{"name":"arr"},"transform":[{"filter":"datum.p=='C'"}],"mark":{"type":"rule","strokeWidth":3.5,"color":"black"},
 "encoding":{"x":{"field":"f","type":"quantitative","axis":null},"y":{"field":"v1","type":"quantitative","axis":null},"y2":{"field":"v2"}}},
{"data":{"name":"arr"},"transform":[{"filter":"datum.p=='C'"}],"mark":{"type":"point","shape":"triangle-down","filled":true,"color":"black","size":170,"opacity":1},
 "encoding":{"x":{"field":"f","type":"quantitative","axis":null},"y":{"field":"vh","type":"quantitative","axis":null}}},
{"data":{"name":"ann"},"transform":[{"filter":"datum.p=='C'"}],"mark":{"type":"text","font":"DejaVu Serif","fontSize":20,"fontStyle":"italic","align":"left","baseline":"alphabetic","color":"black"},
 "encoding":{"x":{"field":"f","type":"quantitative","axis":null},"y":{"field":"v","type":"quantitative","axis":null},"text":{"field":"a"}}},
{"data":{"name":"ann"},"transform":[{"filter":"datum.p=='C'"}],"mark":{"type":"text","font":"DejaVu Serif","fontSize":20,"align":"left","baseline":"alphabetic","color":"black","dx":20},
 "encoding":{"x":{"field":"f","type":"quantitative","axis":null},"y":{"field":"v","type":"quantitative","axis":null},"text":{"field":"b"}}},
{"data":{"name":"arr"},"transform":[{"filter":"datum.p=='C'"}],"mark":{"type":"point","opacity":0},
 "encoding":{"x":{"field":"f","type":"quantitative","axis":{"orient":"top","labels":false,"domain":false,"title":null,"values":[0,5,10,15,20]}},"y":{"field":"v1","type":"quantitative","axis":{"orient":"right","labels":false,"domain":false,"title":null,"values":[-40,-30,-20,-10,0]}}}}
],
"resolve":{"axis":{"x":"independent","y":"independent"}}
},
{
"width":463,"height":354,
"layer":[
{"data":{"name":"dg"},"mark":{"type":"line","strokeWidth":1.2},
 "encoding":{
  "x":{"field":"f","type":"quantitative","scale":{"domain":[0,20],"nice":false},"axis":{"title":"Fréquence (GHz)","values":[0,5,10,15,20]}},
  "y":{"field":"v","type":"quantitative","scale":{"domain":[-3.5,0],"nice":false},"axis":{"title":"ΔG (mS)","values":[-3.5,-3,-2.5,-2,-1.5,-1,-0.5,0],"labelExpr":"replace(format(datum.value,'~g'),'\u2212','-')"}},
  "color":{"field":"t","type":"quantitative","scale":{"domain":[0,80],"range":["#F5B526","#E5761B"],"interpolate":"rgb"},"legend":null},
  "detail":{"field":"t","type":"nominal"}
 }},
{"data":{"name":"arr"},"transform":[{"filter":"datum.p=='G'"}],"mark":{"type":"rule","strokeWidth":3.5,"color":"black"},
 "encoding":{"x":{"field":"f","type":"quantitative","axis":null},"y":{"field":"v1","type":"quantitative","axis":null},"y2":{"field":"v2"}}},
{"data":{"name":"arr"},"transform":[{"filter":"datum.p=='G'"}],"mark":{"type":"point","shape":"triangle-down","filled":true,"color":"black","size":170,"opacity":1},
 "encoding":{"x":{"field":"f","type":"quantitative","axis":null},"y":{"field":"vh","type":"quantitative","axis":null}}},
{"data":{"name":"ann"},"transform":[{"filter":"datum.p=='G'"}],"mark":{"type":"text","font":"DejaVu Serif","fontSize":20,"fontStyle":"italic","align":"left","baseline":"alphabetic","color":"black"},
 "encoding":{"x":{"field":"f","type":"quantitative","axis":null},"y":{"field":"v","type":"quantitative","axis":null},"text":{"field":"a"}}},
{"data":{"name":"ann"},"transform":[{"filter":"datum.p=='G'"}],"mark":{"type":"text","font":"DejaVu Serif","fontSize":20,"align":"left","baseline":"alphabetic","color":"black","dx":20},
 "encoding":{"x":{"field":"f","type":"quantitative","axis":null},"y":{"field":"v","type":"quantitative","axis":null},"text":{"field":"b"}}},
{"data":{"name":"arr"},"transform":[{"filter":"datum.p=='G'"}],"mark":{"type":"point","opacity":0},
 "encoding":{"x":{"field":"f","type":"quantitative","axis":{"orient":"top","labels":false,"domain":false,"title":null,"values":[0,5,10,15,20]}},"y":{"field":"v1","type":"quantitative","axis":{"orient":"right","labels":false,"domain":false,"title":null,"values":[-3.5,-3,-2.5,-2,-1.5,-1,-0.5,0]}}}}
],
"resolve":{"axis":{"x":"independent","y":"independent"}}
}
]
}
